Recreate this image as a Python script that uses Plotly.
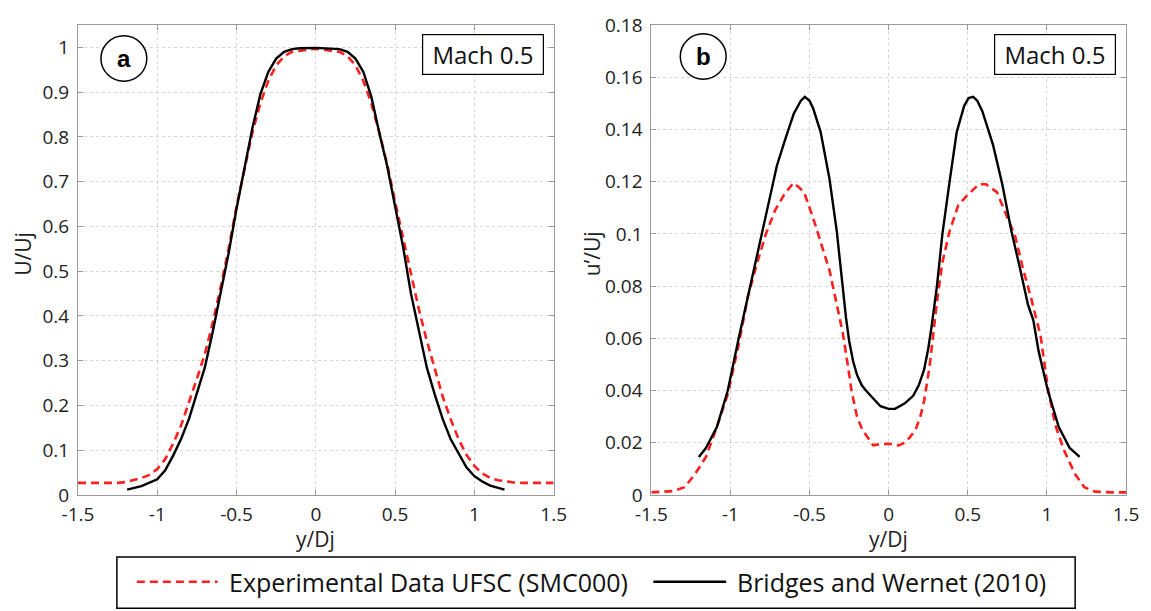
import plotly.graph_objects as go

# ---------------- data ----------------
# Panel a: mean velocity U/Uj vs y/Dj
exp_U_x = [-1.5, -1.4, -1.3, -1.25, -1.2, -1.15, -1.1, -1.05, -1.0, -0.95, -0.9, -0.85, -0.8, -0.75,
           -0.7, -0.65, -0.6, -0.55, -0.5, -0.45, -0.4, -0.35, -0.3, -0.25, -0.2, -0.15, -0.1, -0.05,
           0.0, 0.05, 0.1, 0.15, 0.2, 0.25, 0.3, 0.35, 0.4, 0.45, 0.5, 0.55, 0.6, 0.65, 0.7, 0.75,
           0.8, 0.85, 0.9, 0.95, 1.0, 1.05, 1.1, 1.15, 1.2, 1.25, 1.3, 1.4, 1.5]
exp_U_y = [0.027, 0.027, 0.027, 0.027, 0.029, 0.033, 0.038, 0.045, 0.058, 0.08, 0.115, 0.155, 0.205, 0.26,
           0.315, 0.385, 0.465, 0.55, 0.645, 0.73, 0.81, 0.875, 0.925, 0.96, 0.98, 0.99, 0.993, 0.995,
           0.997, 0.995, 0.993, 0.99, 0.98, 0.96, 0.925, 0.875, 0.81, 0.74, 0.655, 0.575, 0.49, 0.415, 0.345, 0.28,
           0.22, 0.17, 0.125, 0.09, 0.065, 0.048, 0.038, 0.033, 0.030, 0.028, 0.027, 0.027, 0.027]

ref_U_x = [-1.19, -1.1, -1.0, -0.95, -0.9, -0.85, -0.8, -0.75, -0.7, -0.65, -0.6, -0.55, -0.5, -0.45,
           -0.4, -0.35, -0.3, -0.25, -0.2, -0.15, -0.1, 0.0, 0.1, 0.15, 0.2, 0.25, 0.3, 0.35, 0.4,
           0.45, 0.5, 0.55, 0.6, 0.65, 0.7, 0.75, 0.8, 0.85, 0.9, 0.95, 1.0, 1.05, 1.1, 1.19]
ref_U_y = [0.012, 0.020, 0.035, 0.055, 0.088, 0.125, 0.170, 0.225, 0.285, 0.365, 0.45, 0.54, 0.64, 0.73,
           0.82, 0.895, 0.945, 0.975, 0.990, 0.996, 0.998, 0.999, 0.998, 0.996, 0.990, 0.975, 0.945, 0.89, 0.81,
           0.735, 0.645, 0.555, 0.45, 0.365, 0.285, 0.225, 0.170, 0.125, 0.092, 0.062, 0.042, 0.030, 0.021, 0.012]

# Panel b: turbulence intensity u'/Uj vs y/Dj
exp_u_x = [-1.5, -1.4, -1.36, -1.29, -1.224, -1.155, -1.086, -1.017, -0.948, -0.89, -0.833, -0.776, -0.718,
           -0.661, -0.603, -0.57, -0.535, -0.477, -0.42, -0.374, -0.328, -0.29, -0.259, -0.235, -0.2, -0.167,
           -0.12, -0.098, -0.05, 0.0, 0.063, 0.1, 0.132, 0.17, 0.2, 0.224, 0.258, 0.305, 0.339, 0.385, 0.44, 0.5,
           0.57, 0.615, 0.684, 0.73, 0.8, 0.845, 0.902, 0.96, 1.006, 1.052, 1.109, 1.178, 1.236, 1.305, 1.4, 1.5]
exp_u_y = [0.001, 0.0012, 0.0015, 0.003, 0.008, 0.0146, 0.026, 0.0386, 0.0576, 0.076, 0.0886, 0.100, 0.109,
           0.115, 0.1195, 0.118, 0.116, 0.106, 0.095, 0.086, 0.073, 0.062, 0.050, 0.040, 0.030, 0.025,
           0.021, 0.019, 0.0195, 0.0196, 0.019, 0.020, 0.022, 0.025, 0.030, 0.036, 0.049, 0.074, 0.089, 0.101,
           0.111, 0.115, 0.119, 0.119, 0.116, 0.109, 0.099, 0.0876, 0.075, 0.061, 0.041, 0.027, 0.017, 0.008,
           0.003, 0.0013, 0.001, 0.001]

ref_u_x = [-1.2, -1.155, -1.086, -1.017, -0.948, -0.89, -0.822, -0.764, -0.707, -0.65, -0.6, -0.555, -0.53,
           -0.5, -0.477, -0.43, -0.374, -0.328, -0.293, -0.27, -0.25, -0.224, -0.2, -0.17, -0.144, -0.1, -0.052,
           0.0, 0.04, 0.1, 0.155, 0.19, 0.224, 0.25, 0.27, 0.305, 0.339, 0.385, 0.43, 0.477, 0.505, 0.534, 0.56,
           0.592, 0.66, 0.718, 0.776, 0.833, 0.88, 0.914, 0.948, 1.006, 1.075, 1.144, 1.207]
ref_u_y = [0.0146, 0.018, 0.026, 0.040, 0.060, 0.076, 0.094, 0.110, 0.126, 0.137, 0.146, 0.151, 0.1525,
           0.151, 0.148, 0.139, 0.121, 0.101, 0.080, 0.068, 0.059, 0.051, 0.046, 0.042, 0.040, 0.037, 0.034,
           0.033, 0.033, 0.035, 0.038, 0.042, 0.048, 0.056, 0.064, 0.080, 0.0997, 0.120, 0.139, 0.149, 0.152,
           0.1525, 0.151, 0.147, 0.134, 0.119, 0.101, 0.086, 0.073, 0.067, 0.055, 0.040, 0.026, 0.018, 0.0146]

x_tickvals = [-1.5, -1.0, -0.5, 0.0, 0.5, 1.0, 1.5]
x_ticktext = ["-1.5", "-1", "-0.5", "0", "0.5", "1", "1.5"]
yA_tickvals = [0, 0.1, 0.2, 0.3, 0.4, 0.5, 0.6, 0.7, 0.8, 0.9, 1.0]
yA_ticktext = ["0", "0.1", "0.2", "0.3", "0.4", "0.5", "0.6", "0.7", "0.8", "0.9", "1"]
yB_tickvals = [0, 0.02, 0.04, 0.06, 0.08, 0.10, 0.12, 0.14, 0.16, 0.18]
yB_ticktext = ["0", "0.02", "0.04", "0.06", "0.08", "0.1", "0.12", "0.14", "0.16", "0.18"]

name_exp = "Experimental Data UFSC (SMC000)"
name_ref = "Bridges and Wernet (2010)"
panel_labels = ["a", "b"]
mach_label = "Mach 0.5"

# ---------------- style ----------------
RED = "#ff1f1f"
FONT = "Open Sans, Liberation Sans, sans-serif"
AXC = "#9a9a9a"
DASH = "8px,5px"

W, H = 1151, 611
ML, MR, MT, MB = 78, 22, 18, 116
PW, PH = W - ML - MR, H - MT - MB


def px_x(p):
    return (p - ML) / PW


def px_y(p):
    return (H - MB - p) / PH


fig = go.Figure()
fig.add_trace(go.Scatter(x=exp_U_x, y=exp_U_y, mode="lines", name=name_exp, showlegend=False,
                         line=dict(color=RED, width=2.6, dash=DASH), xaxis="x", yaxis="y"))
fig.add_trace(go.Scatter(x=ref_U_x, y=ref_U_y, mode="lines", name=name_ref, showlegend=False,
                         line=dict(color="black", width=2.4), xaxis="x", yaxis="y"))
fig.add_trace(go.Scatter(x=exp_u_x, y=exp_u_y, mode="lines", name=name_exp, showlegend=False,
                         line=dict(color=RED, width=2.6, dash=DASH), xaxis="x2", yaxis="y2"))
fig.add_trace(go.Scatter(x=ref_u_x, y=ref_u_y, mode="lines", name=name_ref, showlegend=False,
                         line=dict(color="black", width=2.4), xaxis="x2", yaxis="y2"))

axis_common = dict(showline=True, linecolor=AXC, linewidth=1, mirror="ticks", ticks="inside",
                   ticklen=5, tickcolor=AXC, showgrid=True, gridcolor="#d6d6d6", griddash="dot",
                   gridwidth=1, zeroline=False, tickfont=dict(family=FONT, size=19, color="#222"))

xa_dom = [0, px_x(555)]
xb_dom = [px_x(653), 1]

fig.update_layout(
    width=W, height=H, margin=dict(l=ML, r=MR, t=MT, b=MB),
    paper_bgcolor="white", plot_bgcolor="white",
    xaxis=dict(domain=xa_dom, range=[-1.5, 1.5], tickvals=x_tickvals, ticktext=x_ticktext,
               anchor="y", ticklabelstandoff=2, **axis_common),
    yaxis=dict(domain=[0, 1], range=[0, 1.05], tickvals=yA_tickvals, ticktext=yA_ticktext,
               anchor="x", ticklabelstandoff=4, **axis_common),
    xaxis2=dict(domain=xb_dom, range=[-1.5, 1.5], tickvals=x_tickvals, ticktext=x_ticktext,
                anchor="y2", ticklabelstandoff=2, **axis_common),
    yaxis2=dict(domain=[0, 1], range=[0, 0.18], tickvals=yB_tickvals, ticktext=yB_ticktext,
                anchor="x2", ticklabelstandoff=4, **axis_common),
    showlegend=False,
)

shapes = []
annotations = []

# panel letters in circles + Mach boxes
for ax, (cx, cy), lab in [("", (124, 52), panel_labels[0]), ("2", (705, 50), panel_labels[1])]:
    x0p = 78 if ax == "" else 653
    x1p = 555 if ax == "" else 1129
    wpx = x1p - x0p
    r = 23
    shapes.append(dict(type="circle", xref=f"x{ax} domain", yref=f"y{ax} domain",
                       x0=(cx - r - x0p) / wpx, x1=(cx + r - x0p) / wpx,
                       y0=(495 - cy - r) / PH, y1=(495 - cy + r) / PH,
                       line=dict(color="black", width=1.5), fillcolor="white", layer="above"))
    annotations.append(dict(xref=f"x{ax} domain", yref=f"y{ax} domain",
                            x=(cx - x0p) / wpx, y=(495 - cy) / PH, text=f"<b>{lab}</b>",
                            showarrow=False, xanchor="center", yanchor="middle",
                            font=dict(family="Liberation Sans, Arial, sans-serif", size=24, color="black")))
    annotations.append(dict(xref=f"x{ax} domain", yref=f"y{ax} domain", x=0.979, y=0.981,
                            xanchor="right", yanchor="top", text="\u00a0" + mach_label + "\u00a0",
                            showarrow=False,
                            bordercolor="black", borderwidth=1.2, borderpad=3, bgcolor="white",
                            font=dict(family=FONT, size=24, color="#111")))

# axis titles
annotations += [
    dict(xref="paper", yref="paper", x=px_x(22), y=px_y(250), text="U/Uj", textangle=-90,
         showarrow=False, xanchor="center", yanchor="middle", font=dict(family=FONT, size=21, color="#222")),
    dict(xref="paper", yref="paper", x=px_x(593), y=px_y(250), text="u\u2019/Uj", textangle=-90,
         showarrow=False, xanchor="center", yanchor="middle", font=dict(family=FONT, size=21, color="#222")),
    dict(xref="paper", yref="paper", x=px_x(316.5), y=px_y(540), text="y/Dj",
         showarrow=False, xanchor="center", yanchor="middle", font=dict(family=FONT, size=21, color="#222")),
    dict(xref="paper", yref="paper", x=px_x(891), y=px_y(540), text="y/Dj",
         showarrow=False, xanchor="center", yanchor="middle", font=dict(family=FONT, size=21, color="#222")),
]

# legend box (drawn manually to mimic long line samples)
leg_y = px_y(583)
shapes += [
    dict(type="rect", xref="paper", yref="paper", x0=px_x(117), x1=px_x(1078), y0=px_y(610), y1=px_y(558),
         line=dict(color="black", width=1.5), fillcolor="white"),
    dict(type="line", xref="paper", yref="paper", x0=px_x(137), x1=px_x(218), y0=leg_y, y1=leg_y,
         line=dict(color=RED, width=2.6, dash=DASH)),
    dict(type="line", xref="paper", yref="paper", x0=px_x(655), x1=px_x(728), y0=leg_y, y1=leg_y,
         line=dict(color="black", width=2.4)),
]
annotations += [
    dict(xref="paper", yref="paper", x=px_x(227), y=leg_y, text=name_exp, showarrow=False,
         xanchor="left", yanchor="middle", font=dict(family=FONT, size=25, color="#111")),
    dict(xref="paper", yref="paper", x=px_x(737), y=leg_y, text=name_ref, showarrow=False,
         xanchor="left", yanchor="middle", font=dict(family=FONT, size=25, color="#111")),
]

fig.update_layout(shapes=shapes, annotations=annotations)
fig.write_html("out.html")
